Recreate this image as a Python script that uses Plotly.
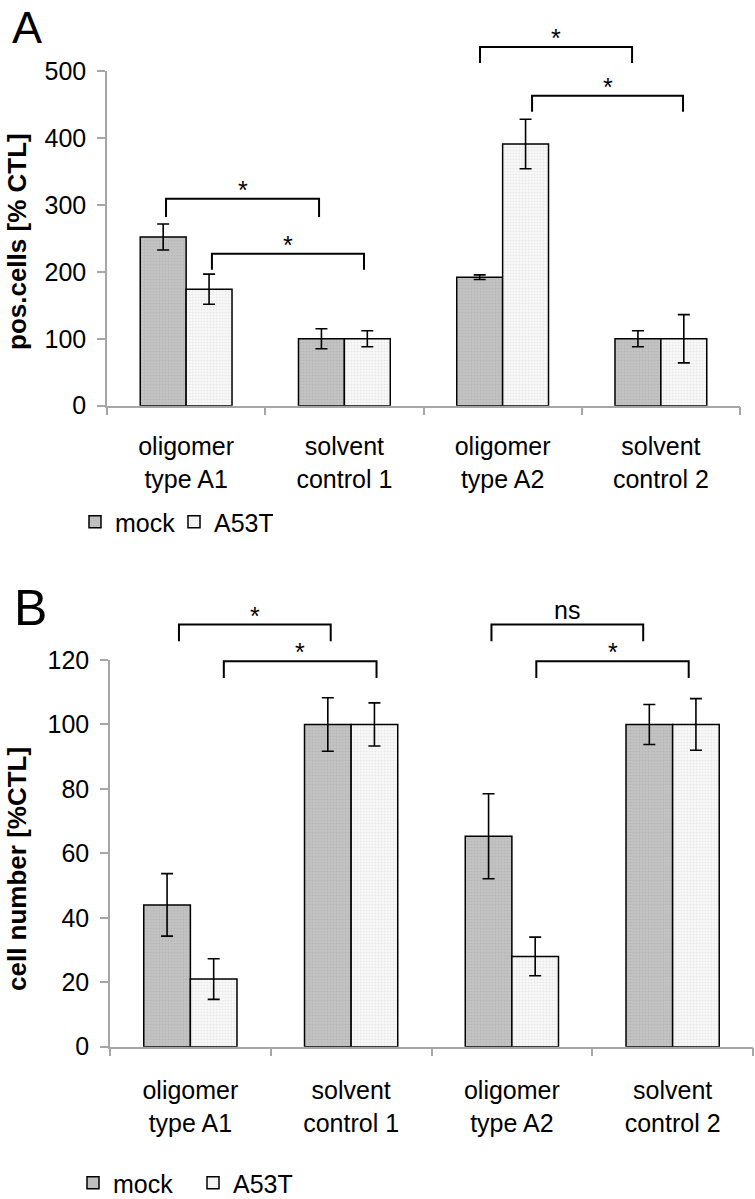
import plotly.graph_objects as go

# ---------------- data ----------------
categories = ["oligomer<br>type A1", "solvent<br>control 1",
              "oligomer<br>type A2", "solvent<br>control 2"]
cat_pos = [0, 1, 2, 3]
series_names = ["mock", "A53T"]

# Panel A: pos.cells [% CTL]
a_mock = [252, 100, 192, 100]
a_mock_err = [19.5, 15, 3.5, 12]
a_a53t = [174, 100, 391, 100]
a_a53t_err = [22.5, 12, 37, 36]

# Panel B: cell number [%CTL]
b_mock = [44, 100, 65.3, 100]
b_mock_err = [9.7, 8.3, 13.2, 6.2]
b_a53t = [21, 100, 28, 100]
b_a53t_err = [6.3, 6.7, 6.0, 8.0]

# significance brackets (x in category units, y in data units)
a_br_x0 = [-0.127, 0.163, 1.857, 2.186]
a_br_x1 = [0.840, 1.124, 2.818, 3.140]
a_br_top = [309, 227, 536, 463]
a_br_bot = [282, 203, 512, 439]
a_br_lab = ["*", "*", "*", "*"]

b_br_x0 = [-0.071, 0.208, 1.873, 2.152]
b_br_x1 = [0.873, 1.158, 2.817, 3.100]
b_br_top = [131, 119.6, 131, 119.6]
b_br_bot = [125.8, 114.4, 125.8, 114.4]
b_br_lab = ["*", "*", "ns", "*"]

a_ymax, a_dtick = 500, 100
b_ymax, b_dtick = 120, 20

# ---------------- style ----------------
W, H = 755, 1199
FONT = "Liberation Sans"
AXC = "#a6a6a6"
mock_marker = dict(color="#bcbcbc", line=dict(color="black", width=1.5),
                   pattern=dict(shape=".", fgcolor="#a8a8a8", bgcolor="#c2c2c2",
                                size=3, solidity=0.25))
a53t_marker = dict(color="#f4f4f4", line=dict(color="black", width=1.5),
                   pattern=dict(shape=".", fgcolor="#d6d6d6", bgcolor="#f7f7f7",
                                size=3, solidity=0.25))

def err(arr):
    return dict(type="data", array=arr, color="black", thickness=1.6, width=6)

fig = go.Figure()
panels = [
    ("x", "y", "legend", a_mock, a_mock_err, a_a53t, a_a53t_err),
    ("x2", "y2", "legend2", b_mock, b_mock_err, b_a53t, b_a53t_err),
]
for xa, ya, lg, m, me, t, te in panels:
    fig.add_trace(go.Bar(x=cat_pos, y=m, name=series_names[0], marker=mock_marker,
                         error_y=err(me), xaxis=xa, yaxis=ya, legend=lg,
                         offsetgroup="0"))
    fig.add_trace(go.Bar(x=cat_pos, y=t, name=series_names[1], marker=a53t_marker,
                         error_y=err(te), xaxis=xa, yaxis=ya, legend=lg,
                         offsetgroup="1"))

# brackets + labels
def add_brackets(xref, ydom, ymax, x0s, x1s, tops, bots, labs):
    for x0, x1, top, bot, lab in zip(x0s, x1s, tops, bots, labs):
        ft, fb = top / ymax, bot / ymax
        fig.add_shape(type="path", xref=xref, yref=ydom,
                      path=f"M {x0},{fb} L {x0},{ft} L {x1},{ft} L {x1},{fb}",
                      line=dict(color="black", width=2))
        fig.add_annotation(x=(x0 + x1) / 2, y=ft, xref=xref, yref=ydom,
                           text=lab, showarrow=False, yanchor="bottom",
                           yshift=-7 if lab == "*" else -1,
                           font=dict(family=FONT, size=25, color="black"))

add_brackets("x", "y domain", a_ymax, a_br_x0, a_br_x1, a_br_top, a_br_bot, a_br_lab)
add_brackets("x2", "y2 domain", b_ymax, b_br_x0, b_br_x1, b_br_top, b_br_bot, b_br_lab)

# axes
def xaxis(domain, anchor, standoff):
    return dict(domain=domain, anchor=anchor, range=[-0.5, 3.5],
                tickmode="array", tickvals=cat_pos, ticktext=categories,
                ticks="", showline=True, linecolor=AXC, linewidth=1.5,
                showgrid=False, zeroline=False, ticklabelstandoff=standoff,
                tickfont=dict(family=FONT, size=25, color="black"),
                minor=dict(tickmode="array", tickvals=[-0.5, 0.5, 1.5, 2.5, 3.5],
                           ticks="outside", ticklen=8, tickcolor=AXC, tickwidth=1.5))

def yaxis(domain, anchor, ymax, dtick):
    return dict(domain=domain, anchor=anchor, range=[0, ymax], dtick=dtick,
                tick0=0, ticks="outside", ticklen=8, tickcolor=AXC, tickwidth=1.5,
                showline=True, linecolor=AXC, linewidth=1.5, showgrid=False,
                zeroline=False, ticklabelstandoff=6,
                tickfont=dict(family=FONT, size=25, color="black"))

ax_dom = [107 / W, 740 / W]
bx_dom = [110 / W, 753 / W]
ay_dom = [1 - 405.7 / H, 1 - 71 / H]
by_dom = [1 - 1046.7 / H, 1 - 660 / H]

legend_common = dict(orientation="h", xanchor="left", yanchor="middle",
                     font=dict(family=FONT, size=25, color="black"),
                     bgcolor="rgba(0,0,0,0)", itemwidth=30, traceorder="normal",
                     itemclick=False)

fig.update_layout(
    width=W, height=H, margin=dict(l=0, r=0, t=0, b=0, autoexpand=False),
    paper_bgcolor="white", plot_bgcolor="white",
    barmode="group", bargap=0.42, bargroupgap=0,
    font=dict(family=FONT, size=25, color="black"),
    xaxis=xaxis(ax_dom, "y", 18), yaxis=yaxis(ay_dom, "x", a_ymax, a_dtick),
    xaxis2=xaxis(bx_dom, "y2", 21), yaxis2=yaxis(by_dom, "x2", b_ymax, b_dtick),
    legend=dict(legend_common, x=75 / W, y=1 - 522 / H, entrywidth=54),
    legend2=dict(legend_common, x=73 / W, y=1 - 1183 / H, entrywidth=75),
    showlegend=True,
)

# panel letters and y titles
fig.add_annotation(x=10 / W, y=1, xref="paper", yref="paper", text="A",
                   showarrow=False, xanchor="left", yanchor="top",
                   font=dict(family=FONT, size=45, color="black"))
fig.add_annotation(x=12 / W, y=1 - 578 / H, xref="paper", yref="paper", text="B",
                   showarrow=False, xanchor="left", yanchor="top",
                   font=dict(family=FONT, size=50, color="black"))
fig.add_annotation(x=17 / W, y=1 - 242 / H, xref="paper", yref="paper",
                   text="<b>pos.cells [% CTL]</b>", textangle=-90, showarrow=False,
                   xanchor="center", yanchor="middle",
                   font=dict(family=FONT, size=26, color="black"))
fig.add_annotation(x=17 / W, y=1 - 869 / H, xref="paper", yref="paper",
                   text="<b>cell number [%CTL]</b>", textangle=-90, showarrow=False,
                   xanchor="center", yanchor="middle",
                   font=dict(family=FONT, size=26, color="black"))

fig.write_html("out.html", config={"displayModeBar": False},
               post_script="document.body.style.margin='0';")
